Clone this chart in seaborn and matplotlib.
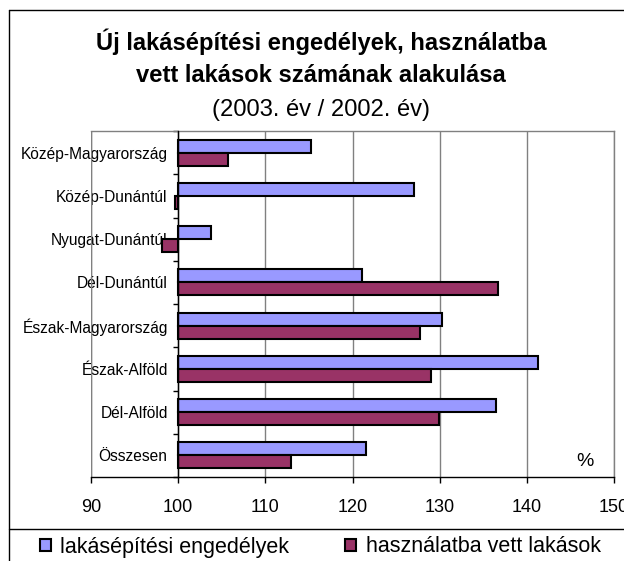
import matplotlib
matplotlib.use('Agg')
import matplotlib.pyplot as plt
import seaborn as sns
import numpy as np
from matplotlib.lines import Line2D
from matplotlib.ticker import FixedLocator

# data (2003 / 2002, %)
regions = ['Közép-Magyarország', 'Közép-Dunántúl', 'Nyugat-Dunántúl', 'Dél-Dunántúl',
           'Észak-Magyarország', 'Észak-Alföld', 'Dél-Alföld', 'Összesen']
engedelyek = [115.2, 127.1, 103.8, 121.1, 130.3, 141.3, 136.5, 121.6]
hasznalatba = [105.7, 99.6, 98.1, 136.7, 127.8, 129.0, 129.9, 112.9]
series_names = ['lakásépítési engedélyek', 'használatba vett lakások']
series_colors = ['#9999FF', '#993366']
x_ticks = [90, 100, 110, 120, 130, 140, 150]
base = 100

sns.set_style('white')
plt.rcParams['font.family'] = ['Liberation Sans', 'DejaVu Sans']
plt.rcParams['text.color'] = 'black'
plt.rcParams['xtick.labelcolor'] = 'black'
plt.rcParams['ytick.labelcolor'] = 'black'

W, H = 624, 561
fig = plt.figure(figsize=(W / 100, H / 100), dpi=100)
fig.patch.set_facecolor('white')

# plot area
ax = fig.add_axes([91 / W, 1 - 477 / H, (614 - 91) / W, (477 - 131) / H])
pos = np.arange(len(regions))
bh = 0.3
for k, (vals, col, name) in enumerate(zip([engedelyek, hasznalatba], series_colors, series_names)):
    off = -bh / 2 if k == 0 else bh / 2
    ax.barh(pos + off, np.array(vals) - base, left=base, height=bh, color=col,
            edgecolor='black', linewidth=1.5, label=name, zorder=3)

ax.set_xlim(x_ticks[0], x_ticks[-1])
ax.set_ylim(len(regions) - 0.5, -0.5)
ax.set_xticks(x_ticks)
ax.set_xticklabels([str(t) for t in x_ticks])
ax.set_yticks(pos)
ax.set_yticklabels(regions)
ax.yaxis.set_minor_locator(FixedLocator(np.arange(len(regions) + 1) - 0.5))

ax.grid(axis='x', color='#808080', linewidth=1.0, zorder=0)
ax.grid(axis='y', visible=False)
for s in ['top', 'right']:
    ax.spines[s].set_color('#808080')
    ax.spines[s].set_linewidth(1.0)
ax.spines['left'].set_position(('data', base))
ax.spines['left'].set_color('black')
ax.spines['left'].set_linewidth(1.0)
ax.spines['left'].set_zorder(4)
ax.spines['bottom'].set_color('black')
ax.spines['bottom'].set_linewidth(1.0)
ax.tick_params(axis='y', which='major', length=0, pad=7.5, labelsize=11.2)
ax.tick_params(axis='y', which='minor', length=3.5, width=1.0, color='black', direction='out', left=True)
ax.tick_params(axis='x', which='major', length=4.5, width=1.0, color='black', direction='out',
               bottom=True, pad=11, labelsize=13)
# gray left border of the plot area (at 90)
ax.axvline(x_ticks[0], color='#808080', linewidth=1.0, zorder=1)

ax.text(0.945, 0.045, '%', transform=ax.transAxes, fontsize=14, ha='center', va='center')

# titles
fig.text(321 / W, 1 - 50 / H, 'Új lakásépítési engedélyek, használatba', ha='center',
         va='baseline', fontsize=17.1, fontweight='bold')
fig.text(321 / W, 1 - 82 / H, 'vett lakások számának alakulása', ha='center',
         va='baseline', fontsize=17.1, fontweight='bold')
fig.text(321 / W, 1 - 116 / H, '(2003. év / 2002. év)', ha='center',
         va='baseline', fontsize=17.1)

# chart frame and legend box borders
fig.add_artist(Line2D([9 / W, 9 / W], [0, 1 - 10 / H], color='black', linewidth=1.0))
fig.add_artist(Line2D([9 / W, 1], [1 - 10 / H, 1 - 10 / H], color='black', linewidth=1.0))
fig.add_artist(Line2D([9 / W, 1], [1 - 529 / H, 1 - 529 / H], color='black', linewidth=1.0))

handles, labels = ax.get_legend_handles_labels()
fig.legend(handles, labels, loc='center left', bbox_to_anchor=(40 / W, 1 - 547 / H),
           ncol=2, frameon=False, fontsize=15.5, handlelength=0.5, handleheight=0.5,
           handletextpad=0.45, columnspacing=2.6, borderpad=0, borderaxespad=0)

fig.savefig('out.png', dpi=100)
